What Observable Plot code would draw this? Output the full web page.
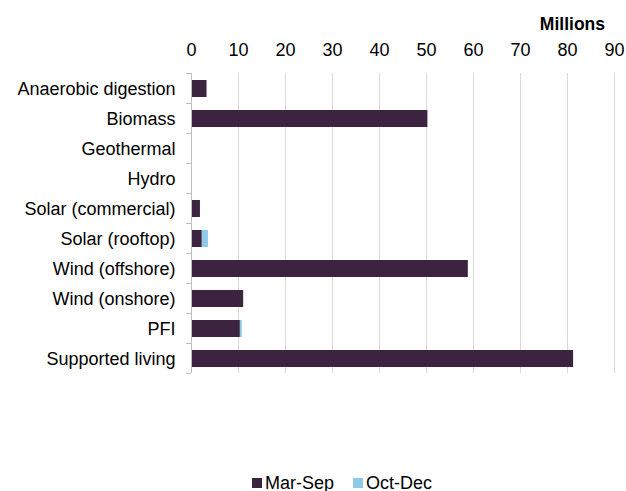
<!DOCTYPE html>
<html>
<head>
<meta charset="utf-8">
<script src="https://cdn.jsdelivr.net/npm/d3@7"></script>
<script src="https://cdn.jsdelivr.net/npm/@observablehq/plot@0.6"></script>
<style>
  body { margin: 0; background: #fff; font-family: "Liberation Sans", Arial, sans-serif; }
  #chart { position: relative; width: 626px; height: 491px; }
  #chart svg { position: absolute; left: 0; top: 0; }
  .unit { position: absolute; top: 14px; right: 21px; font-size: 17.5px; font-weight: bold; color: #000; line-height: 20px; }
  .legend { position: absolute; left: 252px; top: 472px; display: flex; align-items: center; height: 22px; font-size: 18px; color: #000; }
  .legend span.sw { display: inline-block; width: 10px; height: 10px; margin-right: 3px; }
  .legend .item { display: flex; align-items: center; margin-right: 19px; }
</style>
</head>
<body>
<div id="chart"></div>
<script>
const categories = ["Anaerobic digestion", "Biomass", "Geothermal", "Hydro", "Solar (commercial)", "Solar (rooftop)", "Wind (offshore)", "Wind (onshore)", "PFI", "Supported living"];
const series = ["Mar-Sep", "Oct-Dec"];
const marSep = [3.3, 50.3, 0, 0, 1.9, 2.3, 58.9, 11.1, 10.4, 81.3];
const octDec = [0, 0, 0, 0, 0, 1.3, 0, 0, 0.4, 0];
const xTicks = [0, 10, 20, 30, 40, 50, 60, 70, 80, 90];
const unitLabel = "Millions";
const colors = ["#3c2440", "#8ecae8"];

const data = [];
categories.forEach((c, i) => {
  data.push({cat: c, period: series[0], value: marSep[i]});
  data.push({cat: c, period: series[1], value: octDec[i]});
});

const font = '"Liberation Sans", Arial, sans-serif';

const bandTicks = (index, scales, values, dims) => {
  const g = d3.create("svg:g");
  const y = scales.y, x = scales.x;
  const step = y.step();
  const bw = y.bandwidth();
  const edges = categories.map(c => y(c) - (step - bw) / 2);
  edges.push(y(categories[categories.length - 1]) + bw + (step - bw) / 2);
  const x0 = x(0);
  edges.forEach(e => {
    g.append("line").attr("x1", x0 - 5).attr("x2", x0).attr("y1", e).attr("y2", e)
      .attr("stroke", "#bfbfbf").attr("stroke-width", 1);
  });
  return g.node();
};

const plot = Plot.plot({
  width: 626,
  height: 470,
  marginTop: 73,
  marginBottom: 97,
  marginLeft: 191,
  marginRight: 12,
  style: {fontFamily: font, fontSize: "18px", color: "#000", background: "transparent"},
  x: {domain: [0, 90], ticks: xTicks},
  y: {domain: categories, paddingInner: 0.44, paddingOuter: 0.22, align: 0.5},
  color: {domain: series, range: colors},
  marks: [
    Plot.gridX(xTicks.slice(1), {stroke: "#d9d9d9", strokeOpacity: 1}),
    Plot.barX(data, {x: "value", y: "cat", fill: "period", order: series}),
    Plot.ruleX([0], {stroke: "#bfbfbf"}),
    bandTicks,
    Plot.axisX(xTicks, {anchor: "top", tickSize: 0, tickPadding: 18, label: null, fill: "#000"}),
    Plot.axisY({anchor: "left", tickSize: 0, tickPadding: 16, label: null, fill: "#000", style: {letterSpacing: "0.35px"}})
  ]
});
const chart = document.getElementById("chart");
chart.appendChild(plot);

const unit = document.createElement("div");
unit.className = "unit";
unit.textContent = unitLabel;
chart.appendChild(unit);

const legend = document.createElement("div");
legend.className = "legend";
series.forEach((s, i) => {
  const item = document.createElement("div");
  item.className = "item";
  const sw = document.createElement("span");
  sw.className = "sw";
  sw.style.background = colors[i];
  item.appendChild(sw);
  item.appendChild(document.createTextNode(s));
  legend.appendChild(item);
});
chart.appendChild(legend);
</script>
</body>
</html>
